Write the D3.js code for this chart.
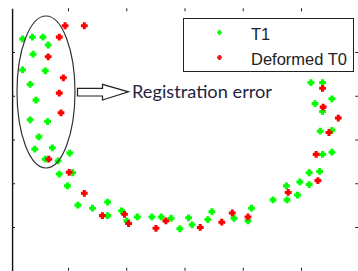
<!DOCTYPE html>
<html>
<head>
<meta charset="utf-8">
<script src="https://cdn.jsdelivr.net/npm/d3@7"></script>
<style>
  body { margin: 0; background: #fff; }
  svg { display: block; }
</style>
</head>
<body>
<script>
var w = 358;
var h = 271;

// data (arbitrary units: ticks at 1..5)
var t1X = [0.22, 0.39, 0.57, 0.66, 0.40, 0.22, 0.61, 0.35, 0.45, 0.35, 0.65, 0.50, 0.43, 0.73, 0.61,
           0.83, 1.03, 0.85, 1.08, 0.99, 1.17, 1.42, 1.68, 1.68, 1.92, 2.01, 2.19, 2.44, 2.60, 2.77,
           2.92, 3.07, 3.13, 3.40, 3.47, 3.85, 4.09, 4.15, 4.52, 4.75, 4.76, 4.94, 4.98, 5.14, 5.14,
           5.32, 5.37, 5.53, 5.33, 5.53, 5.17, 5.37, 5.53, 5.24, 5.37];
var t1Y = [5.30, 5.34, 5.34, 5.16, 4.95, 4.59, 4.57, 4.26, 3.90, 3.45, 3.41, 3.06, 2.78, 2.81, 2.55,
           2.51, 2.69, 2.21, 2.24, 1.94, 1.50, 1.43, 1.57, 1.26, 1.37, 1.14, 1.23, 1.23, 1.23, 1.20,
           0.96, 1.21, 1.05, 1.17, 1.35, 1.20, 1.14, 1.43, 1.62, 1.94, 1.62, 1.73, 2.03, 2.24, 1.97,
           2.27, 2.66, 2.71, 3.19, 3.21, 4.30, 4.30, 3.93, 3.82, 3.64];
var t0X = [0.95, 1.28, 0.85, 0.66, 0.92, 0.85, 0.88, 0.67, 1.02, 1.28, 1.59, 1.97, 2.04, 2.51, 2.68,
           3.27, 3.64, 3.82, 4.09, 4.78, 5.29, 5.26, 5.48, 5.64, 5.38, 5.37];
var t0Y = [5.60, 5.60, 5.34, 4.89, 4.41, 4.06, 3.61, 2.55, 2.25, 1.77, 1.26, 1.29, 1.08, 0.97, 1.14,
           0.99, 1.11, 1.32, 1.23, 1.79, 2.06, 2.66, 3.16, 3.49, 3.74, 4.17];

var xTicks = [1, 2, 3, 4, 5];
var yTicks = [1, 2, 3, 4, 5];
var seriesNames = ["T1", "Deformed T0"];
var seriesColors = ["#00ff00", "#ff0000"];
var noteText = "Registration error";

var xMin = 0.04, xMax = 6, yMin = 0, yMax = 6;

var xScale = d3.scaleLinear().domain([0, 6]).range([9.75, 359.25]);
var yScale = d3.scaleLinear().domain([0, 6]).range([270.75, 8.25]);

var svg = d3.select("body").append("svg")
    .attr("width", w)
    .attr("height", h);

// axes, MATLAB style ticks pointing inwards
var left = svg.append("g")
    .attr("transform", "translate(" + xScale(xMin) + ",0)")
    .call(d3.axisRight(yScale).tickValues(yTicks).tickSize(3).tickSizeOuter(0).tickFormat(""));
left.select(".domain").attr("stroke", "#111").attr("stroke-width", 1.4);

svg.append("g")
    .attr("transform", "translate(" + xScale(xMax) + ",0)")
    .call(d3.axisLeft(yScale).tickValues(yTicks).tickSize(4).tickFormat(""))
    .select(".domain").remove();

svg.append("g")
    .attr("transform", "translate(0," + yScale(yMax) + ")")
    .call(d3.axisBottom(xScale).tickValues(xTicks).tickSize(3).tickFormat(""))
    .select(".domain").remove();

svg.append("g")
    .attr("transform", "translate(0," + yScale(yMin) + ")")
    .call(d3.axisTop(xScale).tickValues(xTicks).tickSize(3).tickFormat(""))
    .select(".domain").remove();

svg.selectAll(".tick line").attr("stroke", "#222");

// fat plus marker, looks like the blurred matlab dots
function blob(r) {
    return {
        draw: function(ctx) {
            var b = r * 0.45;
            ctx.moveTo(-b, -r); ctx.lineTo(b, -r); ctx.lineTo(b, -b); ctx.lineTo(r, -b);
            ctx.lineTo(r, b); ctx.lineTo(b, b); ctx.lineTo(b, r); ctx.lineTo(-b, r);
            ctx.lineTo(-b, b); ctx.lineTo(-r, b); ctx.lineTo(-r, -b); ctx.lineTo(-b, -b);
            ctx.closePath();
        }
    };
}
var marker = d3.symbol().type(blob(3.4));

svg.append("g").selectAll("path")
    .data(d3.range(t1X.length))
    .enter()
    .append("path")
    .attr("d", marker)
    .attr("transform", function(i) {
        return "translate(" + xScale(t1X[i]) + "," + yScale(t1Y[i]) + ")";
    })
    .attr("fill", seriesColors[0]);

svg.append("g").selectAll("path")
    .data(d3.range(t0X.length))
    .enter()
    .append("path")
    .attr("d", marker)
    .attr("transform", function(i) {
        return "translate(" + xScale(t0X[i]) + "," + yScale(t0Y[i]) + ")";
    })
    .attr("fill", seriesColors[1]);

// ellipse round the error region
svg.append("ellipse")
    .attr("cx", 46)
    .attr("cy", 92)
    .attr("rx", 29)
    .attr("ry", 76)
    .attr("fill", "none")
    .attr("stroke", "#333")
    .attr("stroke-width", 1.2);

// hollow block arrow
svg.append("path")
    .attr("d", "M77.5,88.3 L102.5,88.3 L102.5,84.3 L128.5,91.8 L102.5,100 L102.5,96 L77.5,96 Z")
    .attr("fill", "#fff")
    .attr("stroke", "#222")
    .attr("stroke-width", 1.2);

svg.append("text")
    .attr("x", 132)
    .attr("y", 98)
    .attr("font-family", "Lato, 'Open Sans', sans-serif")
    .attr("font-size", 17)
    .attr("fill", "#1e2440")
    .attr("textLength", 140)
    .attr("lengthAdjust", "spacingAndGlyphs")
    .text(noteText);

// legend
var legend = svg.append("g");
legend.append("rect")
    .attr("x", 183.5)
    .attr("y", 18.5)
    .attr("width", 170)
    .attr("height", 53)
    .attr("fill", "#fff")
    .attr("stroke", "#222")
    .attr("stroke-width", 1);

var legMarker = d3.symbol().type(blob(2.4));
seriesNames.forEach(function(name, i) {
    var yy = 32.5 + i * 25;
    legend.append("path")
        .attr("d", legMarker)
        .attr("transform", "translate(219.5," + yy + ")")
        .attr("fill", seriesColors[i]);
    legend.append("text")
        .attr("x", 251)
        .attr("y", yy + 7)
        .attr("font-family", "'Liberation Sans', Arial, sans-serif")
        .attr("font-size", 16.5)
        .attr("fill", "#222")
        .text(name);
});
</script>
</body>
</html>
